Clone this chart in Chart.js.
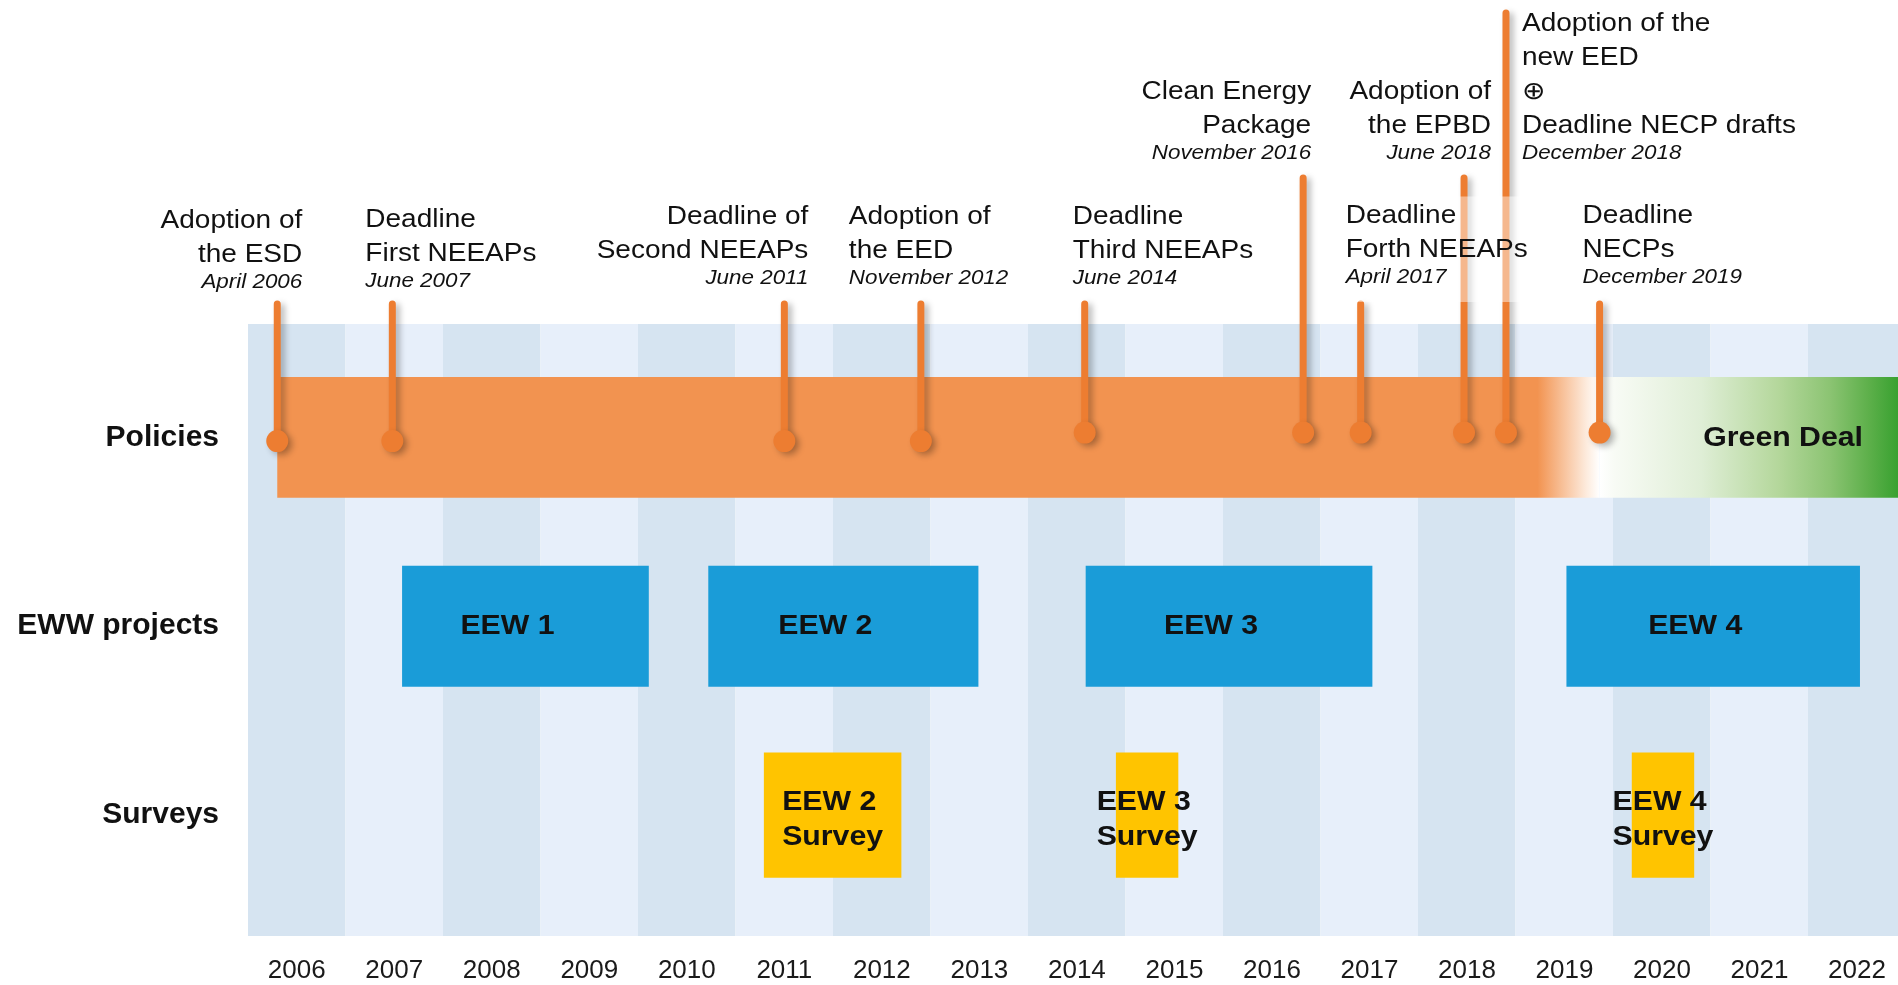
<!DOCTYPE html>
<html>
<head>
<meta charset="utf-8">
<title>Energy Efficiency Watch timeline</title>
<script src="https://cdn.jsdelivr.net/npm/chart.js@4.4.1/dist/chart.umd.min.js"></script>
<style>
  html, body { margin: 0; padding: 0; background: #fff; overflow: hidden; }
  canvas { display: block; }
</style>
</head>
<body>
<canvas id="timeline" width="1898" height="985"></canvas>
<script>
// axis values
const years = [2006, 2007, 2008, 2009, 2010, 2011, 2012, 2013, 2014, 2015, 2016, 2017, 2018, 2019, 2020, 2021, 2022];
const xMin = 2005.5;
const xMax = 2022.42;
const rowLabels = ['Policies', 'EWW projects', 'Surveys'];
const rowValues = [3, 2, 1];

// policy milestones (lollipops)
const eventTitles = [
  ['Adoption of', 'the ESD'],
  ['Deadline', 'First NEEAPs'],
  ['Deadline of', 'Second NEEAPs'],
  ['Adoption of', 'the EED'],
  ['Deadline', 'Third NEEAPs'],
  ['Clean Energy', 'Package'],
  ['Deadline', 'Forth NEEAPs'],
  ['Adoption of', 'the EPBD'],
  ['Adoption of the', 'new EED', '\u2295', 'Deadline NECP drafts'],
  ['Deadline', 'NECPs']
];
const eventDates = ['April 2006', 'June 2007', 'June 2011', 'November 2012', 'June 2014',
  'November 2016', 'April 2017', 'June 2018', 'December 2018', 'December 2019'];
const eventX = [2005.80, 2006.98, 2011.00, 2012.40, 2014.08, 2016.32, 2016.91, 2017.97, 2018.40, 2019.36];
const stemBase = [2.98, 2.98, 2.98, 2.98, 3.025, 3.025, 3.025, 3.025, 3.025, 3.025];
const stemTop = [3.706, 3.706, 3.706, 3.706, 3.706, 4.373, 3.706, 4.373, 5.246, 3.706];

// policies band
const policyBand = [2005.80, 2019.36];
const greenDeal = [2019.36, 2022.42];
const greenDealLabel = 'Green Deal';

// EWW projects
const projectNames = ['EEW 1', 'EEW 2', 'EEW 3', 'EEW 4'];
const projectStart = [2007.08, 2010.22, 2014.09, 2019.02];
const projectEnd = [2009.61, 2012.99, 2017.03, 2022.03];

// surveys
const surveyNames = [['EEW 2', 'Survey'], ['EEW 3', 'Survey'], ['EEW 4', 'Survey']];
const surveyStart = [2010.79, 2014.40, 2019.69];
const surveyEnd = [2012.20, 2015.04, 2020.33];

// where each milestone text sits relative to its stem (pixels)
const eventLabelLayout = [
  { align: 'right', dx: 25, y: 288 },
  { align: 'left', dx: -27, y: 287 },
  { align: 'right', dx: 24, y: 284 },
  { align: 'left', dx: -72, y: 284 },
  { align: 'left', dx: -12, y: 284 },
  { align: 'right', dx: 8, y: 159 },
  { align: 'left', dx: -15, y: 283, box: true },
  { align: 'right', dx: 27, y: 159 },
  { align: 'left', dx: 16, y: 159 },
  { align: 'left', dx: -17, y: 283 }
];

const FONT = "'Liberation Sans', Arial, sans-serif";
const stemOrange = '#ED7D31';
const bandOrange = '#F29350';
const projectBlue = '#1A9CD8';
const surveyYellow = '#FFC400';
const stripeDark = '#D6E4F1';
const stripeLight = '#E7EFFA';
const textStretch = 1.12;

function stretchText(ctx, text, x, y, align, font) {
  ctx.save();
  ctx.font = font;
  ctx.textAlign = align;
  ctx.textBaseline = 'alphabetic';
  ctx.fillStyle = '#111';
  ctx.translate(x, y);
  ctx.scale(textStretch, 1);
  ctx.fillText(text, 0, 0);
  ctx.restore();
}

function textWidth(ctx, text, font) {
  ctx.save();
  ctx.font = font;
  const w = ctx.measureText(text).width * textStretch;
  ctx.restore();
  return w;
}

const stemPoints = [];
eventX.forEach(function (x, i) {
  stemPoints.push({ x: x, y: stemBase[i] }, { x: x, y: stemTop[i] }, { x: x, y: null });
});

function bandColor(c) {
  const xs = c.chart.scales.x;
  if (c.type !== 'data' || !xs || !c.chart.chartArea) return bandOrange;
  const range = c.dataIndex === 0 ? policyBand : greenDeal;
  const x0 = xs.getPixelForValue(range[0]);
  const x1 = xs.getPixelForValue(range[1]);
  if (!isFinite(x0) || !isFinite(x1)) return bandOrange;
  const g = c.chart.ctx.createLinearGradient(x0, 0, x1, 0);
  if (c.dataIndex === 0) {
    g.addColorStop(0, bandOrange);
    g.addColorStop(0.953, bandOrange);
    g.addColorStop(0.99, '#FDEBDD');
    g.addColorStop(1, '#FFFFFF');
  } else {
    g.addColorStop(0, '#FFFFFF');
    g.addColorStop(0.05, '#F8FBF5');
    g.addColorStop(0.34, '#DFEED6');
    g.addColorStop(0.6, '#B4D79B');
    g.addColorStop(0.77, '#8CC473');
    g.addColorStop(0.9, '#5EB04B');
    g.addColorStop(1, '#38A130');
  }
  return g;
}

const stemShadow = {
  id: 'stemShadow',
  beforeDatasetDraw(chart, args) {
    if (args.meta.type !== 'line') return;
    const ctx = chart.ctx;
    ctx.save();
    ctx.shadowColor = 'rgba(0,0,0,0.28)';
    ctx.shadowBlur = 6;
    ctx.shadowOffsetX = 4;
    ctx.shadowOffsetY = 3;
  },
  afterDatasetDraw(chart, args) {
    if (args.meta.type !== 'line') return;
    chart.ctx.restore();
  }
};

const timelineLabels = {
  id: 'timelineLabels',
  afterDatasetsDraw(chart) {
    const ctx = chart.ctx;
    const xs = chart.scales.x;
    const ys = chart.scales.y;
    const titleFont = '25px ' + FONT;
    const dateFont = 'italic 20px ' + FONT;
    const boldFont = 'bold 27px ' + FONT;

    // milestone texts
    eventTitles.forEach(function (lines, i) {
      const lay = eventLabelLayout[i];
      const ax = xs.getPixelForValue(eventX[i]) + lay.dx;
      const n = lines.length;
      const base = lines.map(function (_, k) { return lay.y - 26.5 - (n - 1 - k) * 34; });
      if (lay.box) {
        let w = textWidth(ctx, eventDates[i], dateFont);
        lines.forEach(function (t) { w = Math.max(w, textWidth(ctx, t, titleFont)); });
        const left = lay.align === 'left' ? ax - 7 : ax - w - 7;
        ctx.save();
        ctx.fillStyle = 'rgba(255,255,255,0.45)';
        ctx.fillRect(left, base[0] - 26, w + 14, lay.y + 19 - (base[0] - 26));
        ctx.restore();
      }
      lines.forEach(function (t, k) { stretchText(ctx, t, ax, base[k], lay.align, titleFont); });
      stretchText(ctx, eventDates[i], ax, lay.y, lay.align, dateFont);
    });

    // project bars
    projectNames.forEach(function (name, i) {
      const cx = (xs.getPixelForValue(projectStart[i]) + xs.getPixelForValue(projectEnd[i])) / 2 - 18;
      stretchText(ctx, name, cx, ys.getPixelForValue(rowValues[1]) + 8, 'center', boldFont);
    });

    // survey bars
    surveyNames.forEach(function (lines, i) {
      const cx = (xs.getPixelForValue(surveyStart[i]) + xs.getPixelForValue(surveyEnd[i])) / 2;
      let w = 0;
      lines.forEach(function (t) { w = Math.max(w, textWidth(ctx, t, boldFont)); });
      const cy = ys.getPixelForValue(rowValues[2]);
      stretchText(ctx, lines[0], cx - w / 2, cy - 5, 'left', boldFont);
      stretchText(ctx, lines[1], cx - w / 2, cy + 30, 'left', boldFont);
    });

    stretchText(ctx, greenDealLabel, xs.getPixelForValue(greenDeal[1]) - 35,
      ys.getPixelForValue(rowValues[0]) + 9, 'right', boldFont);
  }
};

new Chart(document.getElementById('timeline'), {
  type: 'bar',
  data: {
    datasets: [
      {
        type: 'line',
        label: 'Milestones',
        data: stemPoints,
        borderColor: stemOrange,
        borderWidth: 7,
        borderCapStyle: 'round',
        backgroundColor: stemOrange,
        pointRadius: function (c) { return c.dataIndex % 3 === 0 ? 11 : 0; },
        pointBackgroundColor: stemOrange,
        pointBorderWidth: 0,
        spanGaps: false,
        tension: 0,
        clip: false,
        order: 0
      },
      {
        type: 'bar',
        indexAxis: 'y',
        label: 'Surveys',
        data: surveyStart.map(function (s, i) { return { x: [s, surveyEnd[i]], y: rowValues[2] }; }),
        backgroundColor: surveyYellow,
        grouped: false,
        categoryPercentage: 1,
        barPercentage: 0.662,
        order: 1
      },
      {
        type: 'bar',
        indexAxis: 'y',
        label: 'EWW projects',
        data: projectStart.map(function (s, i) { return { x: [s, projectEnd[i]], y: rowValues[1] }; }),
        backgroundColor: projectBlue,
        grouped: false,
        categoryPercentage: 1,
        barPercentage: 0.64,
        order: 2
      },
      {
        type: 'bar',
        indexAxis: 'y',
        label: 'Policies',
        data: [{ x: policyBand, y: rowValues[0] }, { x: greenDeal, y: rowValues[0] }],
        backgroundColor: bandColor,
        grouped: false,
        categoryPercentage: 1,
        barPercentage: 0.64,
        order: 3
      }
    ]
  },
  options: {
    responsive: false,
    devicePixelRatio: 1,
    animation: false,
    events: [],
    layout: { autoPadding: false, padding: { top: 324, left: 0, right: 0, bottom: 0 } },
    plugins: {
      legend: { display: false },
      tooltip: { enabled: false }
    },
    scales: {
      x: {
        type: 'linear',
        min: xMin,
        max: xMax,
        offset: false,
        afterBuildTicks: function (s) { s.ticks = years.map(function (v) { return { value: v }; }); },
        afterFit: function (s) {
          s.height = 49;
          s.paddingLeft = 0;
          s.paddingRight = 0;
        },
        ticks: {
          autoSkip: false,
          maxRotation: 0,
          padding: 19,
          color: '#1a1a1a',
          font: { family: FONT, size: 26 },
          callback: function (v) { return String(v); }
        },
        grid: {
          offset: false,
          drawTicks: false,
          lineWidth: function (c) {
            return Math.abs(c.scale.getPixelForValue(years[1]) - c.scale.getPixelForValue(years[0]));
          },
          color: function (c) {
            return c.tick && c.tick.value % 2 === 0 ? stripeDark : stripeLight;
          }
        },
        border: { display: false }
      },
      y: {
        type: 'linear',
        min: 0.36,
        max: 3.6,
        offset: false,
        afterBuildTicks: function (s) { s.ticks = rowValues.map(function (v) { return { value: v }; }); },
        afterFit: function (s) {
          s.width = 248;
          s.paddingTop = 0;
          s.paddingBottom = 0;
        },
        ticks: {
          padding: 21,
          color: '#111',
          font: { family: FONT, size: 30, weight: 'bold' },
          callback: function (v) { return rowLabels[rowValues.indexOf(v)]; }
        },
        grid: { display: false, offset: false },
        border: { display: false }
      }
    }
  },
  plugins: [stemShadow, timelineLabels]
});
</script>
</body>
</html>
